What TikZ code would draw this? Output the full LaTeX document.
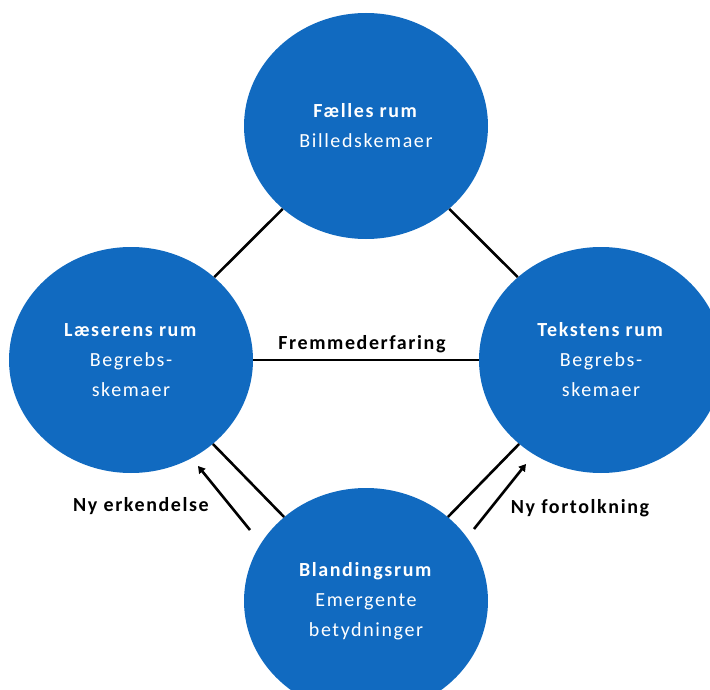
\documentclass[tikz,border=0pt]{standalone}
\usepackage{fontspec}
\setmainfont{Carlito}[LetterSpace=8]
\usetikzlibrary{shapes.geometric,arrows.meta}
\definecolor{rumblue}{RGB}{17,106,192}
\tikzset{
  rum/.style={ellipse, fill=rumblue, draw=none, minimum width=244pt, minimum height=226pt, inner sep=0pt,
    text=white, align=center, font=\fontsize{20}{30}\selectfont},
  link/.style={draw=black, line width=2.6pt},
  flow/.style={draw=black, line width=2.6pt, -{Triangle[length=7pt,width=8pt]}},
  lbl/.style={font=\bfseries\fontsize{20}{24}\selectfont, text=black, inner sep=0pt}
}
\begin{document}
\begin{tikzpicture}[x=1pt,y=-1pt]
\useasboundingbox (0,0) rectangle (710,690);
\node[rum] (top) at (366,126) {\textbf{Fælles rum}\\Billedskemaer};
\node[rum] (left) at (131,360) {\textbf{Læserens rum}\\Begrebs-\\skemaer};
\node[rum] (right) at (601,360) {\textbf{Tekstens rum}\\Begrebs-\\skemaer};
\node[rum] (bottom) at (366,601) {\textbf{Blandingsrum}\\Emergente\\betydninger};
\draw[link] (top) -- (left);
\draw[link] (top) -- (right);
\draw[link] (left) -- (right);
\draw[link] (left) -- (bottom);
\draw[link] (right) -- (bottom);
\node[lbl] (fremmed) at (362,344) {Fremmederfaring};
\coordinate (a1s) at (250,530);
\coordinate (a1e) at (198,466);
\coordinate (a2s) at (474,529);
\coordinate (a2e) at (526,464);
\draw[flow] (a1s) -- (a1e);
\draw[flow] (a2s) -- (a2e);
\node[lbl] (erk) at (141,506) {Ny erkendelse};
\node[lbl] (fort) at (580,508) {Ny fortolkning};
\end{tikzpicture}
\end{document}
